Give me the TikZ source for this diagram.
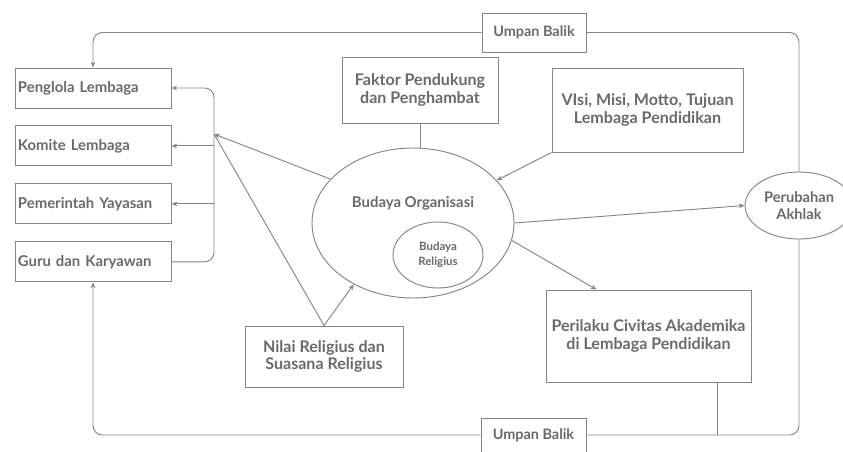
\documentclass[tikz,border=0pt]{standalone}
\usepackage{fontspec}
\setmainfont{Lato}
\usetikzlibrary{arrows.meta,positioning,shapes.geometric}
\definecolor{linegray}{HTML}{858585}
\definecolor{textgray}{HTML}{6A6A6A}

\begin{document}
\begin{tikzpicture}[x=0.03cm, y=-0.03cm, node distance=0.51cm,
		every node/.style={font=\bfseries\fontsize{12}{15}\selectfont, text=textgray},
		txt/.style={font=\bfseries\fontsize{#1}{15}\selectfont},
		box/.style={draw=linegray, line width=0.8pt, fill=white, align=center, inner sep=2pt},
		sidebox/.style={box, txt=12.7, text width=4.5cm, align=left, minimum height=1.2cm, inner xsep=0.09cm},
		oval/.style={draw=linegray, line width=0.8pt, fill=white, ellipse, inner sep=0pt, align=center},
		line/.style={draw=linegray, line width=0.8pt},
		arr/.style={line, -{Stealth[length=5pt, width=4pt]}}]
	\useasboundingbox (0,0) rectangle (843,452);
	
	% kolom kiri
	\node[sidebox] (pgl) at (93,88) {Penglola Lembaga};
	\node[sidebox, below=of pgl] (kom) {Komite Lembaga};
	\node[sidebox, below=of kom] (pem) {Pemerintah Yayasan};
	\node[sidebox, below=of pem] (guru) {Guru dan Karyawan};
	
	% kotak lainnya
	\node[box, txt=13.7, minimum width=4.68cm, minimum height=1.98cm] (fak) at (420,90) {Faktor Pendukung\\dan Penghambat};
	\node[box, txt=13.7, minimum width=5.73cm, minimum height=2.52cm] (vis) at (647.5,110) {VIsi, Misi, Motto, Tujuan\\Lembaga Pendidikan};
	\node[box, txt=13.7, minimum width=4.74cm, minimum height=1.83cm] (nil) at (324,356.5) {Nilai Religius dan\\Suasana Religius};
	\node[box, txt=13.7, minimum width=6.15cm, minimum height=2.76cm] (pcv) at (648.5,336) {Perilaku Civitas Akademika\\di Lembaga Pendidikan};
	\node[box, txt=12.3, minimum width=3.12cm, minimum height=1.17cm] (ub1) at (534,32.5) {Umpan Balik};
	\node[box, txt=12.3, minimum width=3.15cm, minimum height=1.02cm] (ub2) at (533.5,435) {Umpan Balik};
	
	% budaya organisasi
	\node[oval, minimum width=6.06cm, minimum height=4.5cm] (bo) at (413,223) {};
	\node[txt=12.7] (bot) at (413,203) {Budaya Organisasi};
	\node[oval, minimum width=2.7cm, minimum height=1.98cm, font=\bfseries\fontsize{9.8}{12.8}\selectfont] (brl) at (438,255) {Budaya\\Religius};
	
	\coordinate (br) at (214,134);
	\coordinate (rtop) at (799,32.5);
	\coordinate (rbot) at (799,435);
	\coordinate (pcvout) at ([xshift=2.07cm]pcv.south);
	
	% umpan balik
	\draw[line, rounded corners=8] (ub1.east) -- (rtop) -- (rbot) -- (ub2.east);
	\draw[arr, rounded corners=8] (ub1.west) -| (pgl.north);
	\draw[arr, rounded corners=8] (ub2.west) -| (guru.south);
	\draw[line] (pcvout) -- (pcvout |- rbot);
	
	\node[oval, txt=12.5, minimum width=3.24cm, minimum height=2.01cm] (pa) at (799,205.5) {Perubahan\\Akhlak};
	
	% panah ke kolom kiri
	\draw[arr, {Stealth[length=5pt, width=4pt]}-, rounded corners=8] (pgl.east) -| (br) |- (guru.east);
	\draw[arr] (br |- kom.east) -- (kom.east);
	\draw[arr] (br |- pem.east) -- (pem.east);
	\draw[arr] (bo.152) -- (br);
	\draw[line] (nil.north) -- (br);
	
	% panah lainnya
	\draw[line] (fak.south) -- (fak.south |- bo.north);
	\draw[arr] (vis.south west) -- (bo.27);
	\draw[arr] (nil.north) -- (bo.226);
	\draw[arr] (bo.east) -- (pa.west);
	\draw[arr] (bo.-10) -- ([xshift=1.53cm]pcv.north west);
\end{tikzpicture}
\end{document}
